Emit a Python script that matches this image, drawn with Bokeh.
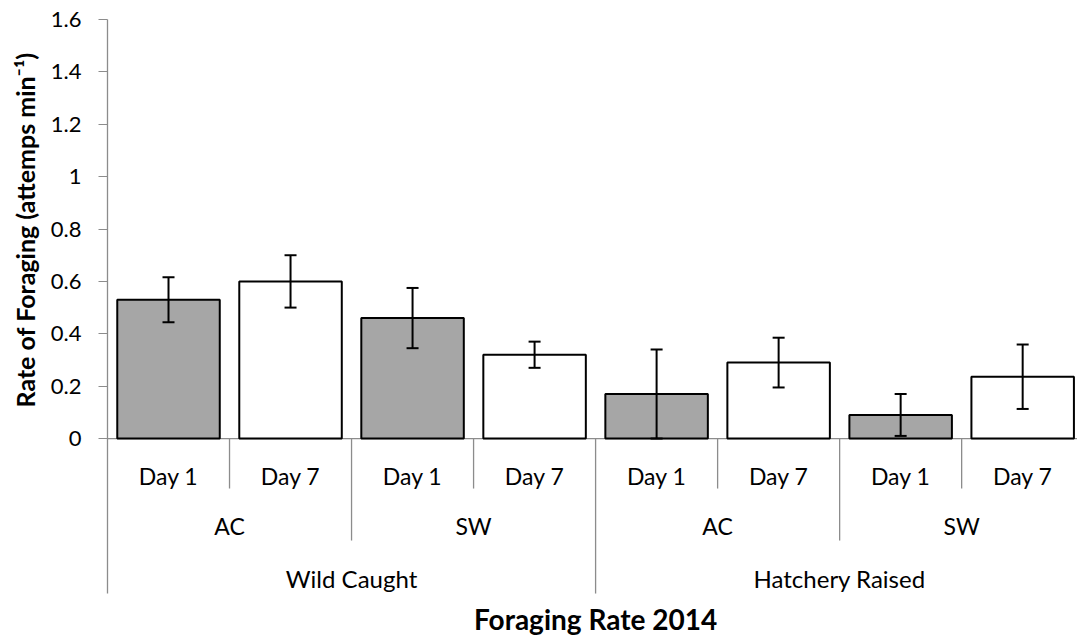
import numpy as np
from bokeh.plotting import figure
from bokeh.models import Range1d, FixedTicker, ColumnDataSource, Whisker, TeeHead, Title
from bokeh.core.properties import value
from bokeh.embed import file_html
from bokeh.resources import INLINE

# ---- data ----
origin = ["Wild Caught", "Wild Caught", "Wild Caught", "Wild Caught",
          "Hatchery Raised", "Hatchery Raised", "Hatchery Raised", "Hatchery Raised"]
water = ["AC", "AC", "SW", "SW", "AC", "AC", "SW", "SW"]
day = ["Day 1", "Day 7", "Day 1", "Day 7", "Day 1", "Day 7", "Day 1", "Day 7"]
rate = [0.53, 0.60, 0.46, 0.32, 0.17, 0.29, 0.09, 0.236]
err = [0.086, 0.10, 0.115, 0.05, 0.17, 0.095, 0.08, 0.123]
y_ticks = [0, 0.2, 0.4, 0.6, 0.8, 1.0, 1.2, 1.4, 1.6]
y_tick_labels = {0: "0", 0.2: "0.2", 0.4: "0.4", 0.6: "0.6", 0.8: "0.8",
                 1.0: "1", 1.2: "1.2", 1.4: "1.4", 1.6: "1.6"}
x_title = "Foraging Rate 2014"
y_title = "Rate of Foraging (attemps min\u207b\u00b9)"

FONT = "Lato"
GRAY = "#8c8c8c"
n = len(rate)
xc = np.arange(n) + 0.5
fills = ["#a6a6a6" if d == "Day 1" else "#ffffff" for d in day]

PX_PER_UNIT = 261.9   # vertical pixels per data unit
LVL1 = -50 / PX_PER_UNIT
LVL2 = -102 / PX_PER_UNIT
LVL3 = -155 / PX_PER_UNIT

W, H = 1077, 636
LEFT, TOP = 104, 19
p = figure(width=W, height=H, output_backend="svg", toolbar_location=None,
           x_range=Range1d(0, (W - LEFT) / 122.4),
           y_range=Range1d(1.6 - (H - TOP) / PX_PER_UNIT, 1.6),
           min_border_left=LEFT, min_border_right=0, min_border_top=TOP, min_border_bottom=0)
p.outline_line_color = None
p.xgrid.visible = False
p.ygrid.visible = False
p.xaxis.visible = False

ya = p.yaxis[0]
ya.ticker = FixedTicker(ticks=y_ticks)
ya.major_label_overrides = y_tick_labels
ya.bounds = (LVL3, 1.6)
ya.minor_tick_line_color = None
ya.major_tick_in = 0
ya.major_tick_out = 9
ya.major_tick_line_color = GRAY
ya.axis_line_color = GRAY
ya.axis_line_width = 1.3
ya.major_label_standoff = 17
ya.major_label_text_font = FONT
ya.major_label_text_font_size = "22px"
ya.major_label_text_color = "#000000"

# y title as a left-side title
p.add_layout(Title(text=y_title, align="left", offset=229, standoff=15,
                   text_font=FONT, text_font_size="25px", text_font_style="bold",
                   text_color="#000000"), "left")

# baseline
p.segment(x0=[0], y0=[0], x1=[p.x_range.end], y1=[0], line_color=GRAY, line_width=1.3)

# bars
src = ColumnDataSource(dict(x=xc, top=rate, fill=fills,
                            upper=[r + e for r, e in zip(rate, err)],
                            lower=[max(r - e, 0) for r, e in zip(rate, err)]))
p.vbar(x="x", top="top", bottom=0, width=0.84, source=src, fill_color="fill",
       line_color="#000000", line_width=2)
p.add_layout(Whisker(base="x", upper="upper", lower="lower", source=src, level="overlay",
                     line_color="#000000", line_width=2,
                     upper_head=TeeHead(size=12, line_color="#000000", line_width=2),
                     lower_head=TeeHead(size=12, line_color="#000000", line_width=2)))

# category separators
sep1 = [i for i in range(1, n) if origin[i] == origin[i - 1] and water[i] == water[i - 1]]
sep2 = [i for i in range(1, n) if origin[i] == origin[i - 1] and water[i] != water[i - 1]]
sep3 = [i for i in range(1, n) if origin[i] != origin[i - 1]]
p.segment(x0=sep1, y0=[0] * len(sep1), x1=sep1, y1=[LVL1] * len(sep1), line_color=GRAY, line_width=1.3)
p.segment(x0=sep2, y0=[0] * len(sep2), x1=sep2, y1=[LVL2] * len(sep2), line_color=GRAY, line_width=1.3)
p.segment(x0=sep3, y0=[0] * len(sep3), x1=sep3, y1=[LVL3] * len(sep3), line_color=GRAY, line_width=1.3)

# level labels
p.text(x=xc, y=[-37 / PX_PER_UNIT] * n, text=day, text_font=value(FONT), text_font_size="23px",
       text_align="center", text_baseline="middle", text_color="#000000")
wg = []
for i in range(n):
    key = (origin[i], water[i])
    if not wg or wg[-1][0] != key:
        wg.append([key, i, i + 1])
    else:
        wg[-1][2] = i + 1
p.text(x=[(a + b) / 2 for _, a, b in wg], y=[-87 / PX_PER_UNIT] * len(wg),
       text=[k[1] for k, _, _ in wg], text_font=value(FONT), text_font_size="23px",
       text_align="center", text_baseline="middle", text_color="#000000")
og = []
for i in range(n):
    if not og or og[-1][0] != origin[i]:
        og.append([origin[i], i, i + 1])
    else:
        og[-1][2] = i + 1
p.text(x=[(a + b) / 2 for _, a, b in og], y=[-140 / PX_PER_UNIT] * len(og),
       text=[k for k, _, _ in og], text_font=value(FONT), text_font_size="24px",
       text_align="center", text_baseline="middle", text_color="#000000")

# x title
p.text(x=[n / 2], y=[-180 / PX_PER_UNIT], text=[x_title], text_font=value(FONT),
       text_font_size="28px", text_font_style="bold", text_align="center",
       text_baseline="middle", text_color="#000000")

open("out.html", "w").write(file_html(p, INLINE))
